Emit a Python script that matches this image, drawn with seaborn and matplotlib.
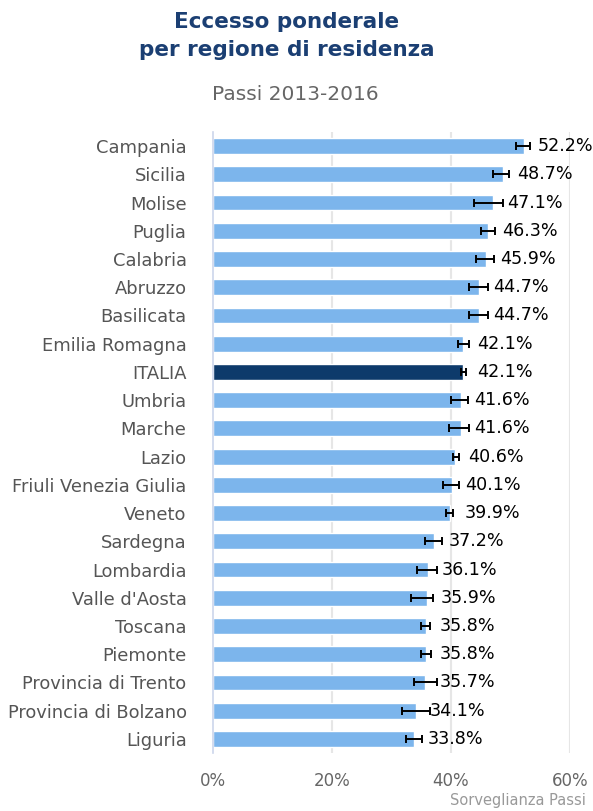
import matplotlib
matplotlib.use("Agg")
import matplotlib.pyplot as plt
import seaborn as sns
import numpy as np
import pandas as pd

regions = ["Campania", "Sicilia", "Molise", "Puglia", "Calabria", "Abruzzo",
           "Basilicata", "Emilia Romagna", "ITALIA", "Umbria", "Marche", "Lazio",
           "Friuli Venezia Giulia", "Veneto", "Sardegna", "Lombardia",
           "Valle d'Aosta", "Toscana", "Piemonte", "Provincia di Trento",
           "Provincia di Bolzano", "Liguria"]
values = [52.2, 48.7, 47.1, 46.3, 45.9, 44.7, 44.7, 42.1, 42.1, 41.6, 41.6, 40.6,
          40.1, 39.9, 37.2, 36.1, 35.9, 35.8, 35.8, 35.7, 34.1, 33.8]
ci_low = [50.9, 47.0, 43.8, 45.0, 44.2, 43.0, 43.0, 41.2, 41.6, 40.0, 39.7, 40.3,
          38.6, 39.2, 35.7, 34.3, 33.2, 34.9, 34.9, 33.8, 31.8, 32.4]
ci_high = [53.3, 49.8, 48.8, 47.4, 47.3, 46.2, 46.2, 43.1, 42.5, 42.8, 43.1, 41.4,
           41.4, 40.3, 38.5, 37.6, 37.0, 36.5, 36.7, 37.6, 36.5, 35.1]
x_ticks = [0, 20, 40, 60]
x_ticklabels = ["0%", "20%", "40%", "60%"]

df = pd.DataFrame({"regione": regions, "valore": values})
bar_color = "#7cb5ec"
italia_color = "#0d3a6b"
palette = {r: (italia_color if r == "ITALIA" else bar_color) for r in regions}

sns.set_theme(style="white")
plt.rcParams["font.family"] = ["DejaVu Sans"]

W, H = 593, 811
fig = plt.figure(figsize=(W / 100, H / 100), dpi=100)
left, right, top, bottom = 213, 570, 132, 753
ax = fig.add_axes([left / W, 1 - bottom / H, (right - left) / W, (bottom - top) / H])

sns.barplot(data=df, x="valore", y="regione", hue="regione", palette=palette,
            legend=False, ax=ax, width=0.56, saturation=1, orient="h")

ypos = np.arange(len(regions))
err = [np.array(values) - np.array(ci_low), np.array(ci_high) - np.array(values)]
ax.errorbar(values, ypos, xerr=err, fmt="none", ecolor="black", elinewidth=1.4,
            capsize=3, capthick=1.4, zorder=5)

for y, v in zip(ypos, values):
    ax.annotate(f"{v:.1f}%", xy=(v, y), xytext=(10, 0), textcoords="offset points",
                va="center", ha="left", fontsize=12.6, color="black", zorder=6)

ax.set_xlim(0, 60)
ax.set_ylim(len(regions) - 0.5, -0.5)
ax.set_xticks(x_ticks)
ax.set_xticklabels(x_ticklabels, fontsize=12, color="#666666")
ax.tick_params(axis="x", length=0, pad=14)
ax.set_yticks(ypos)
ax.set_yticklabels(regions, fontsize=12.9, color="#555555")
ax.tick_params(axis="y", which="major", length=0, pad=19)
ax.set_yticks(np.arange(-0.5, len(regions), 1), minor=True)
ax.tick_params(axis="y", which="minor", length=11, width=1.2, color="#ccd6eb")
ax.set_xlabel("")
ax.set_ylabel("")
for x in x_ticks[1:]:
    ax.axvline(x, color="#e6e6e6", lw=1.5, zorder=0)
for s in ["top", "right", "bottom"]:
    ax.spines[s].set_visible(False)
ax.spines["left"].set_color("#ccd6eb")
ax.spines["left"].set_linewidth(1.2)

fig.text(287 / W, 1 - 22 / H, "Eccesso ponderale", ha="center", va="center",
         fontsize=15.5, fontweight="bold", color="#1b3f73")
fig.text(287 / W, 1 - 50 / H, "per regione di residenza", ha="center", va="center",
         fontsize=15.5, fontweight="bold", color="#1b3f73")
fig.text(295 / W, 1 - 94 / H, "Passi 2013-2016", ha="center", va="center",
         fontsize=14.5, color="#666666")
fig.text(586 / W, 1 - 801 / H, "Sorveglianza Passi", ha="right", va="center",
         fontsize=10.5, color="#999999")

fig.savefig("out.png", dpi=100)
